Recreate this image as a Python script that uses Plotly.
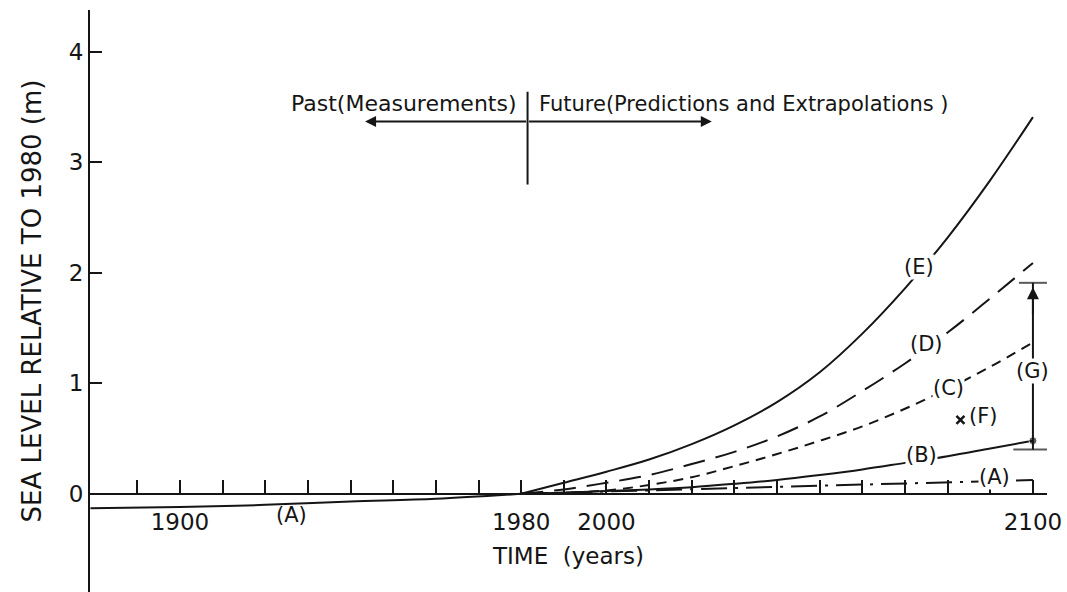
import plotly.graph_objects as go

# ---------------- data ----------------
years_future = [1980, 1990, 2000, 2010, 2020, 2030, 2040, 2050, 2060, 2070, 2080, 2090, 2100]
sea_E = [0.0, 0.10, 0.20, 0.31, 0.45, 0.62, 0.83, 1.10, 1.45, 1.86, 2.32, 2.84, 3.41]
sea_D = [0.0, 0.04, 0.10, 0.17, 0.27, 0.38, 0.52, 0.70, 0.93, 1.18, 1.46, 1.77, 2.09]
sea_C = [0.0, 0.01, 0.03, 0.08, 0.15, 0.25, 0.36, 0.48, 0.61, 0.77, 0.95, 1.15, 1.37]
sea_B = [0.0, 0.01, 0.025, 0.04, 0.06, 0.09, 0.125, 0.17, 0.22, 0.28, 0.34, 0.41, 0.48]

years_A_past = [1879, 1900, 1920, 1940, 1960, 1980]
sea_A_past = [-0.13, -0.12, -0.10, -0.07, -0.045, 0.0]
years_A_future = [1980, 2000, 2020, 2040, 2060, 2080, 2100]
sea_A_future = [0.0, 0.02, 0.04, 0.06, 0.085, 0.105, 0.125]

point_F_year = [2083]
point_F_sea = [0.67]

range_G_years = [2100, 2100]
range_G_sea = [0.40, 1.91]

tick_years = [1890, 1900, 1910, 1920, 1930, 1940, 1950, 1960, 1970, 1980, 1990,
              2000, 2010, 2020, 2030, 2040, 2050, 2060, 2070, 2080, 2090, 2100]
labelled_years = {1900: "1900", 1980: "1980", 2000: "2000", 2100: "2100"}
y_ticks = [0, 1, 2, 3, 4]

# curve labels: (text, year, sea level)
curve_labels = [
    ("(E)", 2073.3, 2.05),
    ("(D)", 2075.0, 1.36),
    ("(C)", 2080.1, 0.96),
    ("(B)", 2073.9, 0.35),
    ("(A)", 2091.1, 0.155),
    ("(G)", 2100.0, 1.11),
]
past_A_label = ("(A)", 1926.2, -0.19)
F_label = ("(F)", 2088.3, 0.70)

divider_year = 1981.5
divider_span = [2.80, 3.64]
arrow_level = 3.37
past_arrow_end = 1943.4
future_arrow_end = 2024.7
header_level = 3.53

# ---------------- styling ----------------
INK = "#151515"
FONT = "DejaVu Sans"
X_RANGE = [1878.9, 2103.3]
Y_RANGE = [-0.889, 4.38]

fig = go.Figure()

fig.add_trace(go.Scatter(x=years_future, y=sea_E, mode="lines", name="E",
                         line=dict(color=INK, width=2, shape="spline")))
fig.add_trace(go.Scatter(x=years_future, y=sea_D, mode="lines", name="D",
                         line=dict(color=INK, width=2, shape="spline", dash="22px,11px")))
fig.add_trace(go.Scatter(x=years_future, y=sea_C, mode="lines", name="C",
                         line=dict(color=INK, width=2, shape="spline", dash="10px,7px")))
fig.add_trace(go.Scatter(x=years_future, y=sea_B, mode="lines+markers", name="B",
                         line=dict(color=INK, width=2, shape="spline"),
                         marker=dict(color=INK, size=[0] * (len(sea_B) - 1) + [8])))
fig.add_trace(go.Scatter(x=years_A_past, y=sea_A_past, mode="lines", name="A (past)",
                         line=dict(color=INK, width=2, shape="spline")))
fig.add_trace(go.Scatter(x=years_A_future, y=sea_A_future, mode="lines", name="A",
                         line=dict(color=INK, width=2, dash="26px,8px,3px,8px")))
fig.add_trace(go.Scatter(x=point_F_year, y=point_F_sea, mode="markers", name="F",
                         marker=dict(symbol="x-thin", size=8, color=INK,
                                     line=dict(color=INK, width=2.5))))
fig.add_trace(go.Scatter(x=range_G_years, y=range_G_sea, mode="lines+markers", name="G",
                         line=dict(color=INK, width=2),
                         marker=dict(symbol="line-ew", size=[28, 20], color=INK,
                                     line=dict(color=INK, width=2))))

annotations = []
for text, xx, yy in curve_labels:
    annotations.append(dict(x=xx, y=yy, text=text, showarrow=False, bgcolor="white",
                            font=dict(family=FONT, size=21, color=INK), borderpad=0))
for text, xx, yy in [past_A_label]:
    annotations.append(dict(x=xx, y=yy, text=text, showarrow=False,
                            font=dict(family=FONT, size=21, color=INK)))
annotations.append(dict(x=F_label[1], y=F_label[2], text=F_label[0], showarrow=False,
                        font=dict(family=FONT, size=21, color=INK)))
# arrowhead of range G
annotations.append(dict(x=range_G_years[1], y=range_G_sea[1] - 0.04, ax=range_G_years[1],
                        ay=range_G_sea[1] - 0.3, axref="x", ayref="y", text="",
                        showarrow=True, arrowhead=2, arrowsize=1.2, arrowwidth=2,
                        arrowcolor=INK))
# past / future arrows
annotations.append(dict(x=past_arrow_end, y=arrow_level, ax=divider_year, ay=arrow_level,
                        axref="x", ayref="y", text="", showarrow=True, arrowhead=2,
                        arrowsize=1.1, arrowwidth=2, arrowcolor=INK))
annotations.append(dict(x=future_arrow_end, y=arrow_level, ax=divider_year, ay=arrow_level,
                        axref="x", ayref="y", text="", showarrow=True, arrowhead=2,
                        arrowsize=1.1, arrowwidth=2, arrowcolor=INK))
annotations.append(dict(x=divider_year - 2.0, y=header_level, text="Past(Measurements)",
                        xanchor="right", showarrow=False,
                        font=dict(family=FONT, size=22, color=INK)))
annotations.append(dict(x=divider_year + 2.2, y=header_level,
                        text="Future(Predictions and Extrapolations )",
                        xanchor="left", showarrow=False,
                        font=dict(family=FONT, size=21, color=INK)))

shapes = [dict(type="line", x0=divider_year, x1=divider_year, y0=divider_span[0],
               y1=divider_span[1], xref="x", yref="y", line=dict(color=INK, width=2))]

zero_pos = (0 - Y_RANGE[0]) / (Y_RANGE[1] - Y_RANGE[0])

fig.update_layout(
    width=1067, height=592,
    margin=dict(l=90, r=20, t=10, b=0),
    paper_bgcolor="white", plot_bgcolor="white",
    showlegend=False,
    font=dict(family=FONT, color=INK),
    annotations=annotations,
    shapes=shapes,
    xaxis=dict(
        range=X_RANGE, anchor="free", position=zero_pos,
        showgrid=False, zeroline=False,
        showline=True, linecolor=INK, linewidth=2,
        ticks="inside", ticklen=13, tickwidth=2, tickcolor=INK,
        tickvals=tick_years,
        ticktext=[labelled_years.get(v, "") for v in tick_years],
        ticklabelstandoff=8,
        tickfont=dict(family=FONT, size=23, color=INK),
        title=dict(text="TIME  (years)", standoff=12,
                   font=dict(family=FONT, size=23, color=INK)),
    ),
    yaxis=dict(
        range=Y_RANGE,
        showgrid=False, zeroline=False,
        showline=True, linecolor=INK, linewidth=2,
        ticks="inside", ticklen=12, tickwidth=2, tickcolor=INK,
        tickvals=y_ticks,
        tickfont=dict(family=FONT, size=23, color=INK),
        title=dict(text="SEA LEVEL RELATIVE TO 1980 (m)", standoff=20,
                   font=dict(family=FONT, size=26, color=INK)),
    ),
)

fig.write_html("out.html")
